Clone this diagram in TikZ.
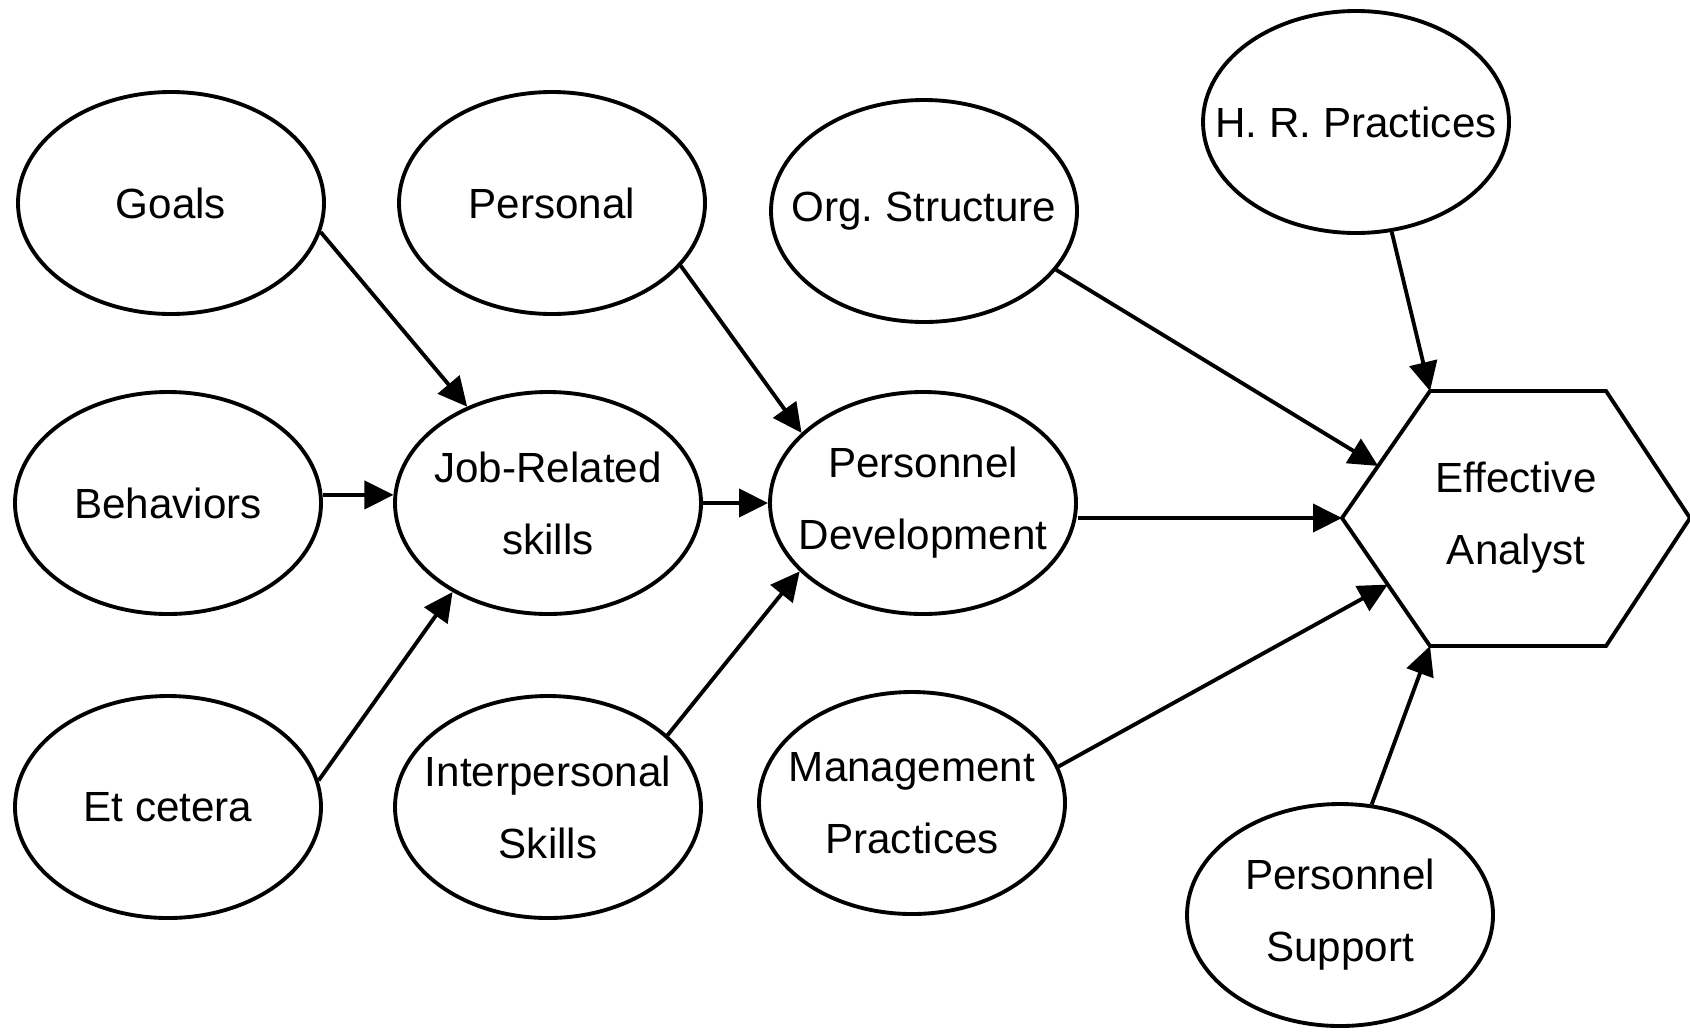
\documentclass[tikz,border=0pt]{standalone}
\usepackage{fontspec}
\setmainfont{Liberation Sans}
\frenchspacing
\usetikzlibrary{shapes.geometric}
\usetikzlibrary{arrows.meta, calc}

\tikzset{
  blob/.style={ellipse,draw,line width=1.1pt,minimum width=3.06cm,minimum height=2.22cm,
    inner xsep=-5mm,inner ysep=0pt,align=center,font=\fontsize{12}{20.5}\selectfont},
  link/.style={line width=1.1pt,-{Triangle[length=2.9mm,width=2.8mm]}}
}

\begin{document}
\begin{tikzpicture}
\useasboundingbox (0,0) rectangle (16.9,10.32);

% left column
\node[blob] (goals) at (1.71,8.29) {Goals};
\node[blob] (behav) at (1.68,5.29) {Behaviors};
\node[blob] (etc) at (1.68,2.25) {Et cetera};

% middle columns
\node[blob] (personal) at (5.52,8.29) {Personal};
\node[blob] (job) at (5.48,5.29) {Job-Related\\skills};
\node[blob] (inter) at (5.48,2.25) {Interpersonal\\Skills};
\node[blob] (org) at (9.24,8.21) {Org. Structure};
\node[blob] (pdev) at (9.23,5.29) {Personnel\\Development};
\node[blob] (mgmt) at (9.12,2.29) {Management\\Practices};

% right side
\node[blob] (hr) at (13.56,9.10) {H. R. Practices};
\node[blob] (psup) at (13.40,1.17) {Personnel\\Support};
\node[align=center,font=\fontsize{12}{20.5}\selectfont] (eff) at (15.16,5.14) {Effective\\Analyst};
\draw[line width=1.1pt] (eff.center) ++(-1.74,0) coordinate (ew)
  -- ++(0.88,1.27) coordinate (enw) -- ++(1.76,0) coordinate (ene)
  -- ++(0.84,-1.27) coordinate (ee) -- ++(-0.84,-1.28) coordinate (ese)
  -- ++(-1.76,0) coordinate (esw) -- cycle;
\coordinate (eo) at ($(ew)!0.41!(enw)$);
\coordinate (em) at ($(ew)!0.52!(esw)$);

% arrows
\draw[link] (goals.-11) -- (job.130);
\draw[link] (behav.3) -- (job.177);
\draw[link] (etc.10) -- (job.223);
\draw[link] (personal.-26) -- (pdev.150);
\draw[link] (job.east) -- (pdev.west);
\draw[link] (inter.31) -- (pdev.209);
\draw[link] (org.-24) -- (eo);
\draw[link] (hr.-72) -- (enw);
\draw[link] (pdev.east |- ew) -- (ew);
\draw[link] (mgmt.14) -- (em);
\draw[link] (psup.74) -- (esw);

\end{tikzpicture}
\end{document}
